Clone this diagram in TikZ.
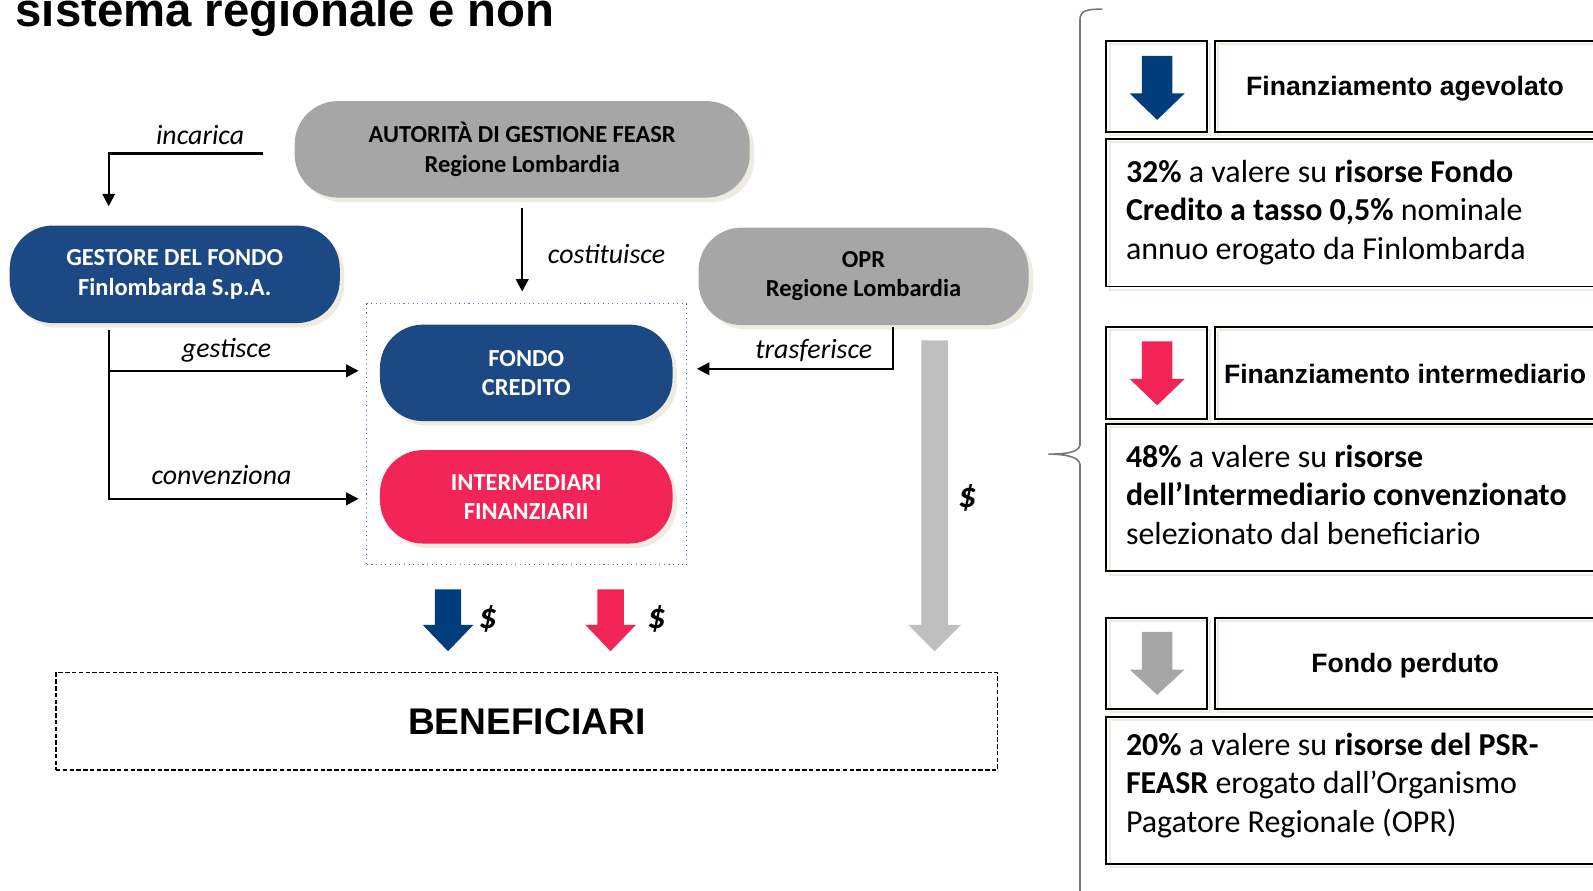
\documentclass[tikz,border=0pt]{standalone}
\usepackage{fontspec}
\setmainfont{Carlito}
\newfontfamily\arialfont{Liberation Sans}
\usetikzlibrary{arrows.meta,shadows}

\definecolor{fcblue}{RGB}{28,73,132}
\definecolor{arrblue}{RGB}{0,61,125}
\definecolor{fcpink}{RGB}{242,36,88}
\definecolor{fcgray}{RGB}{166,166,166}
\definecolor{arrgray}{RGB}{191,191,191}
\definecolor{beige}{RGB}{238,236,225}
\definecolor{dotblue}{RGB}{79,129,189}
\definecolor{bracegray}{RGB}{120,120,120}

% block arrow: x, top, neck, tip, shaft half width, head half width, colour
\newcommand{\downblock}[7]{%
  \fill[#7] (#1-#5,#2) -- (#1+#5,#2) -- (#1+#5,#3) -- (#1+#6,#3) -- (#1,#4)
    -- (#1-#6,#3) -- (#1-#5,#3) -- cycle;}

\tikzset{
  flow/.style={draw, line width=1.3pt, -{Triangle[length=7pt,width=7pt]}},
  verb/.style={font=\itshape\fontsize{15.6}{18}\selectfont},
  money/.style={font=\bfseries\itshape\fontsize{20}{24}\selectfont},
}

\begin{document}
\begin{tikzpicture}[x=0.02cm, y=-0.02cm]
    \node[anchor=base west, inner sep=0pt, font=\arialfont\bfseries\fontsize{26.5}{31}\selectfont] (title) at (15,26) {sistema regionale e non};

    % actors
    \node[draw=dotblue, dotted, line width=0.6pt, minimum width=6.3cm, minimum height=5.14cm] (cont) at (518.5,427.5) {};

    \begin{scope}[every node/.style={rounded corners=0.85cm, align=center, font=\bfseries\fontsize{13.7}{16.4}\selectfont, drop shadow={shadow xshift=2.5pt, shadow yshift=-2.5pt, fill=beige, opacity=1}}]
        \node[fill=fcgray, minimum width=8.96cm, minimum height=1.9cm] (adg) at (514,147) {AUTORITÀ DI GESTIONE FEASR\\Regione Lombardia};
        \node[fill=fcblue, text=white, minimum width=6.5cm, minimum height=1.92cm] (gestore) at (172,270) {GESTORE DEL FONDO\\Finlombarda S.p.A.};
        \node[fill=fcgray, minimum width=6.5cm, minimum height=1.92cm] (opr) at (850,272) {OPR\\Regione Lombardia};
        \node[fill=fcblue, text=white, minimum width=5.76cm, minimum height=1.9cm] (fondo) at (518,367) {FONDO\\CREDITO};
        \node[fill=fcpink, text=white, minimum width=5.76cm, minimum height=1.84cm] (inter) at (518,489) {INTERMEDIARI\\FINANZIARII};
    \end{scope}

    \node[draw, dashed, dash pattern=on 2.5pt off 1.3pt, line width=1pt, minimum width=18.54cm, minimum height=1.92cm, font=\arialfont\bfseries\fontsize{20.8}{24}\selectfont] (benef) at (518.5,710) {BENEFICIARI};

    % connectors
    \coordinate (incS) at (259,151);
    \coordinate (incE) at (107,203);
    \coordinate (cosE) at (514,287);
    \coordinate (g0) at (107,325);
    \coordinate (gesE) at (353,365);
    \coordinate (conE) at (353,491);
    \coordinate (traS) at (879,322);
    \coordinate (traE) at (686,363);

    \draw[flow] (incS) -| (incE);
    \draw[flow, shorten <=5.5pt] (adg.south) -- (cosE);
    \draw[flow] (g0) |- (conE);
    \draw[flow] (g0 |- gesE) -- (gesE);
    \draw[flow] (traS) |- (traE);

    \node[verb] (l1) at (197,133) {incarica};
    \node[verb] (l2) at (597,250) {costituisce};
    \node[verb] (l3) at (223,345) {gestisce};
    \node[verb] (l4) at (218,468) {convenziona};
    \node[verb] (l5) at (801,345) {trasferisce};

    % money flows
    \downblock{920}{335}{615}{641}{13}{26}{arrgray}
    \downblock{441}{580}{615}{641}{13}{25}{arrblue}
    \downblock{601}{580}{615}{641}{13}{25}{fcpink}
    \node[money] (d1) at (952,490) {\$};
    \node[money] (d2) at (480,609) {\$};
    \node[money] (d3) at (646,609) {\$};

    % brace
    \draw[bracegray, line width=0.9pt] (1085,9) .. controls (1070,9) and (1063,10) .. (1063,20) -- (1063,438)
        .. controls (1062,445) and (1050,447) .. (1032,447) .. controls (1050,447) and (1062,450) .. (1063,457) -- (1063,891);

    % legend boxes
    \begin{scope}[every node/.style={draw, line width=1.1pt, inner sep=0pt, drop shadow={shadow xshift=1.8pt, shadow yshift=-1.8pt, draw=beige, fill=none, opacity=1}}]
        \node[minimum width=1.98cm, minimum height=1.8cm] (ic1) at (1138.5,85) {};
        \node[minimum width=8.28cm, minimum height=1.8cm] (hd1) at (1403,85) {};
        \node[minimum width=10.42cm, minimum height=2.9cm] (bd1) at (1349.5,209.5) {};
        \node[minimum width=1.98cm, minimum height=1.8cm] (ic2) at (1138.5,367) {};
        \node[minimum width=8.28cm, minimum height=1.8cm] (hd2) at (1403,367) {};
        \node[minimum width=10.42cm, minimum height=2.9cm] (bd2) at (1349.5,490) {};
        \node[minimum width=1.98cm, minimum height=1.8cm] (ic3) at (1138.5,653) {};
        \node[minimum width=8.28cm, minimum height=1.8cm] (hd3) at (1403,653) {};
        \node[minimum width=10.42cm, minimum height=2.9cm] (bd3) at (1349.5,778) {};
    \end{scope}

    \downblock{1139}{55}{92}{118}{15}{27}{arrblue}
    \downblock{1139}{336}{373}{399}{15}{27}{fcpink}
    \downblock{1139}{622}{659}{684}{15}{27}{fcgray}

    \begin{scope}[every node/.style={font=\arialfont\bfseries\fontsize{14.9}{18}\selectfont}]
        \node (t1) at (1383,87) {Finanziamento agevolato};
        \node (t2) at (1383,368) {Finanziamento intermediario};
        \node (t3) at (1383,655) {Fondo perduto};
    \end{scope}

    \begin{scope}[every node/.style={anchor=west, inner sep=0pt, align=left, font=\fontsize{17.9}{21.6}\selectfont}]
        \node (x1) at (1108,209) {\textbf{32\%} a valere su \textbf{risorse Fondo}\\\textbf{Credito a tasso 0,5\%} nominale\\annuo erogato da Finlombarda};
        \node (x2) at (1108,487) {\textbf{48\%} a valere su \textbf{risorse}\\\textbf{dell’Intermediario convenzionato}\\selezionato dal beneficiario};
        \node (x3) at (1108,773) {\textbf{20\%} a valere su \textbf{risorse del PSR-}\\\textbf{FEASR} erogato dall’Organismo\\Pagatore Regionale (OPR)};
    \end{scope}

    \pgfresetboundingbox
    \useasboundingbox (0,0) rectangle (1568,877);
\end{tikzpicture}
\end{document}
